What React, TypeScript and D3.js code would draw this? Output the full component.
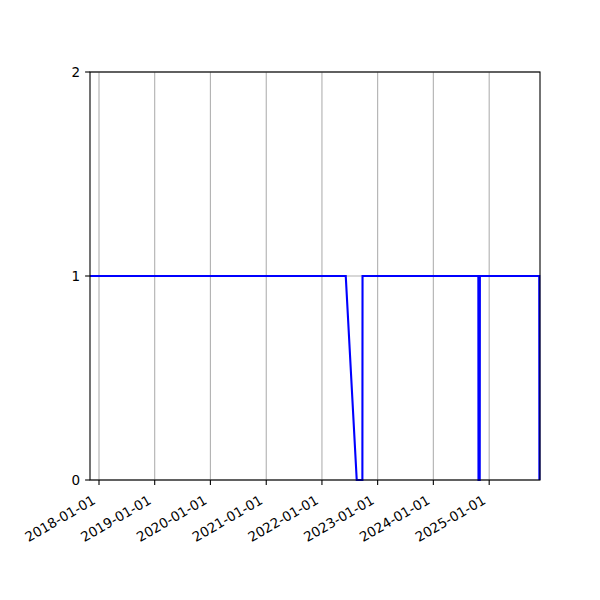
import * as d3 from "d3";

// daily status series (1 = up, 0 = down)
const dates = [
  "2017-11-03", "2022-06-06", "2022-08-17", "2022-09-23", "2022-09-24",
  "2024-10-22", "2024-10-23", "2024-10-31", "2024-11-01",
  "2025-11-25", "2025-11-26",
];
const values = [1, 1, 0, 0, 1, 1, 0, 0, 1, 1, 0];

const xTickDates = [
  "2018-01-01", "2019-01-01", "2020-01-01", "2021-01-01",
  "2022-01-01", "2023-01-01", "2024-01-01", "2025-01-01",
];
const yTicks = [0, 1, 2];
const xDomain = ["2017-11-03", "2025-11-30"];

const parse = d3.utcParse("%Y-%m-%d");

export default function App() {
  const width = 600;
  const height = 600;
  const margin = { top: 72, right: 60, bottom: 120, left: 90 };
  const font = "DejaVu Sans, sans-serif";
  const fs = 13.5;

  const data = dates.map((d, i) => ({ date: parse(d) as Date, value: values[i] }));

  const xScale = d3.scaleUtc()
    .domain(xDomain.map(d => parse(d) as Date))
    .range([margin.left, width - margin.right]);

  const yScale = d3.scaleLinear()
    .domain([0, 2])
    .range([height - margin.bottom, margin.top]);

  const line = d3.line<{ date: Date; value: number }>()
    .x(d => xScale(d.date))
    .y(d => yScale(d.value));

  const x0 = margin.left;
  const x1 = width - margin.right;
  const y0 = height - margin.bottom;
  const y1 = margin.top;

  return (
    <svg width={width} height={height} style={{ position: "absolute", left: 0, top: 0 }}>
      <rect x={0} y={0} width={width} height={height} fill="#fff" />

      {/* Grid */}
      {xTickDates.map(t => {
        const x = xScale(parse(t) as Date);
        return <line key={t} x1={x} x2={x} y1={y1} y2={y0} stroke="#b0b0b0" strokeWidth={1.1} />;
      })}
      {yTicks.map(t => (
        <line key={t} x1={x0} x2={x1} y1={yScale(t)} y2={yScale(t)} stroke="#b0b0b0" strokeWidth={1.1} />
      ))}

      {/* Series */}
      <path d={line(data) ?? ""} fill="none" stroke="#0000ff" strokeWidth={2.1} strokeLinejoin="miter" />

      {/* Spines */}
      <rect x={x0} y={y1} width={x1 - x0} height={y0 - y1} fill="none" stroke="#000" strokeWidth={1.1} />

      {/* Y ticks */}
      {yTicks.map(t => (
        <g key={t}>
          <line x1={x0 - 4.9} x2={x0} y1={yScale(t)} y2={yScale(t)} stroke="#000" strokeWidth={1.1} />
          <text
            x={x0 - 9.8}
            y={yScale(t)}
            textAnchor="end"
            dominantBaseline="central"
            fontSize={fs}
            fontFamily={font}
          >
            {t}
          </text>
        </g>
      ))}

      {/* X ticks */}
      {xTickDates.map(t => {
        const x = xScale(parse(t) as Date);
        return (
          <g key={t}>
            <line x1={x} x2={x} y1={y0} y2={y0 + 4.9} stroke="#000" strokeWidth={1.1} />
            <text
              transform={`translate(${x - 2.5},${503}) rotate(-30)`}
              textAnchor="end"
              fontSize={fs}
              fontFamily={font}
            >
              {t}
            </text>
          </g>
        );
      })}
    </svg>
  );
}
